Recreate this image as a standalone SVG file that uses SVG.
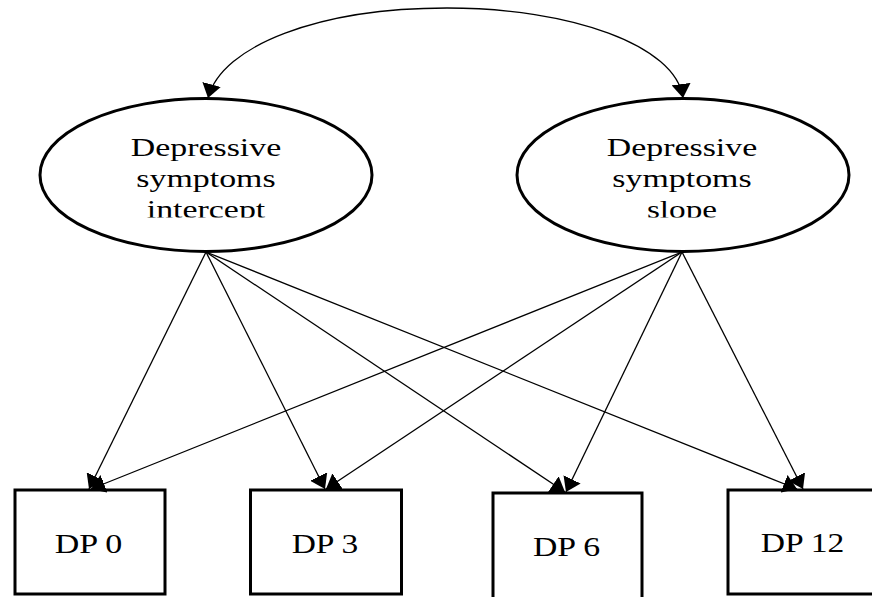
<svg xmlns="http://www.w3.org/2000/svg" width="872" height="597" viewBox="0 0 872 597">
<defs>
<style>
.ell{fill:#fff;stroke:#000;stroke-width:3}
.box{fill:#fff;stroke:#000;stroke-width:3}
.lbl{font-family:"Liberation Serif","Times New Roman",serif;font-size:25px;fill:#000;text-anchor:middle}
.blbl{font-family:"Liberation Serif","Times New Roman",serif;font-size:27px;fill:#000;text-anchor:middle}
.edge{fill:none;stroke:#000;stroke-width:1.3}
</style>
<marker id="ah" markerUnits="userSpaceOnUse" viewBox="0 0 14 19" markerWidth="14" markerHeight="19" refX="14" refY="9.5" orient="auto-start-reverse">
<path d="M0,0 L14,9.5 L0,19 z" fill="#000"/>
</marker>
<clipPath id="clipL"><rect x="0" y="0" width="872" height="217.5"/></clipPath>
</defs>
<g id="intercept">
<ellipse class="ell" cx="206" cy="175" rx="166" ry="76.5"/>
<text class="lbl" transform="translate(206,156) scale(1.355,1)">Depressive</text>
<text class="lbl" transform="translate(206,187) scale(1.355,1)">symptoms</text>
<g clip-path="url(#clipL)"><text class="lbl" transform="translate(206,218) scale(1.355,1)">intercept</text></g>
</g>
<g id="slope">
<ellipse class="ell" cx="683" cy="175" rx="166" ry="76.5"/>
<text class="lbl" transform="translate(682,156) scale(1.355,1)">Depressive</text>
<text class="lbl" transform="translate(682,187) scale(1.355,1)">symptoms</text>
<g clip-path="url(#clipL)"><text class="lbl" transform="translate(682,218) scale(1.33,1)">slope</text></g>
</g>
<g id="dp0">
<rect class="box" x="15" y="490" width="150" height="104"/>
<text class="blbl" transform="translate(88.5,553) scale(1.26,1)">DP 0</text>
</g>
<g id="dp3">
<rect class="box" x="250.5" y="490" width="151" height="104"/>
<text class="blbl" transform="translate(325,553) scale(1.24,1)">DP 3</text>
</g>
<g id="dp6">
<rect class="box" x="493" y="493" width="149" height="120"/>
<text class="blbl" transform="translate(566.5,556) scale(1.25,1)">DP 6</text>
</g>
<g id="dp12">
<rect class="box" x="728" y="490" width="160" height="104"/>
<text class="blbl" transform="translate(802.5,552) scale(1.245,1)">DP 12</text>
</g>
<g id="connectors">
<path class="edge" d="M208,98 C222,45 320,8 447,8 C570,8 676,45 683,98" marker-start="url(#ah)" marker-end="url(#ah)"/>
<line class="edge" x1="206" y1="252" x2="89" y2="489" marker-end="url(#ah)"/>
<line class="edge" x1="206" y1="252" x2="325" y2="489" marker-end="url(#ah)"/>
<line class="edge" x1="206" y1="252" x2="565" y2="492" marker-end="url(#ah)"/>
<line class="edge" x1="206" y1="252" x2="797" y2="489" marker-end="url(#ah)"/>
<line class="edge" x1="682" y1="252" x2="91" y2="489" marker-end="url(#ah)"/>
<line class="edge" x1="682" y1="252" x2="326" y2="489" marker-end="url(#ah)"/>
<line class="edge" x1="682" y1="252" x2="566" y2="492" marker-end="url(#ah)"/>
<line class="edge" x1="682" y1="252" x2="803" y2="489" marker-end="url(#ah)"/>
</g>
</svg>
